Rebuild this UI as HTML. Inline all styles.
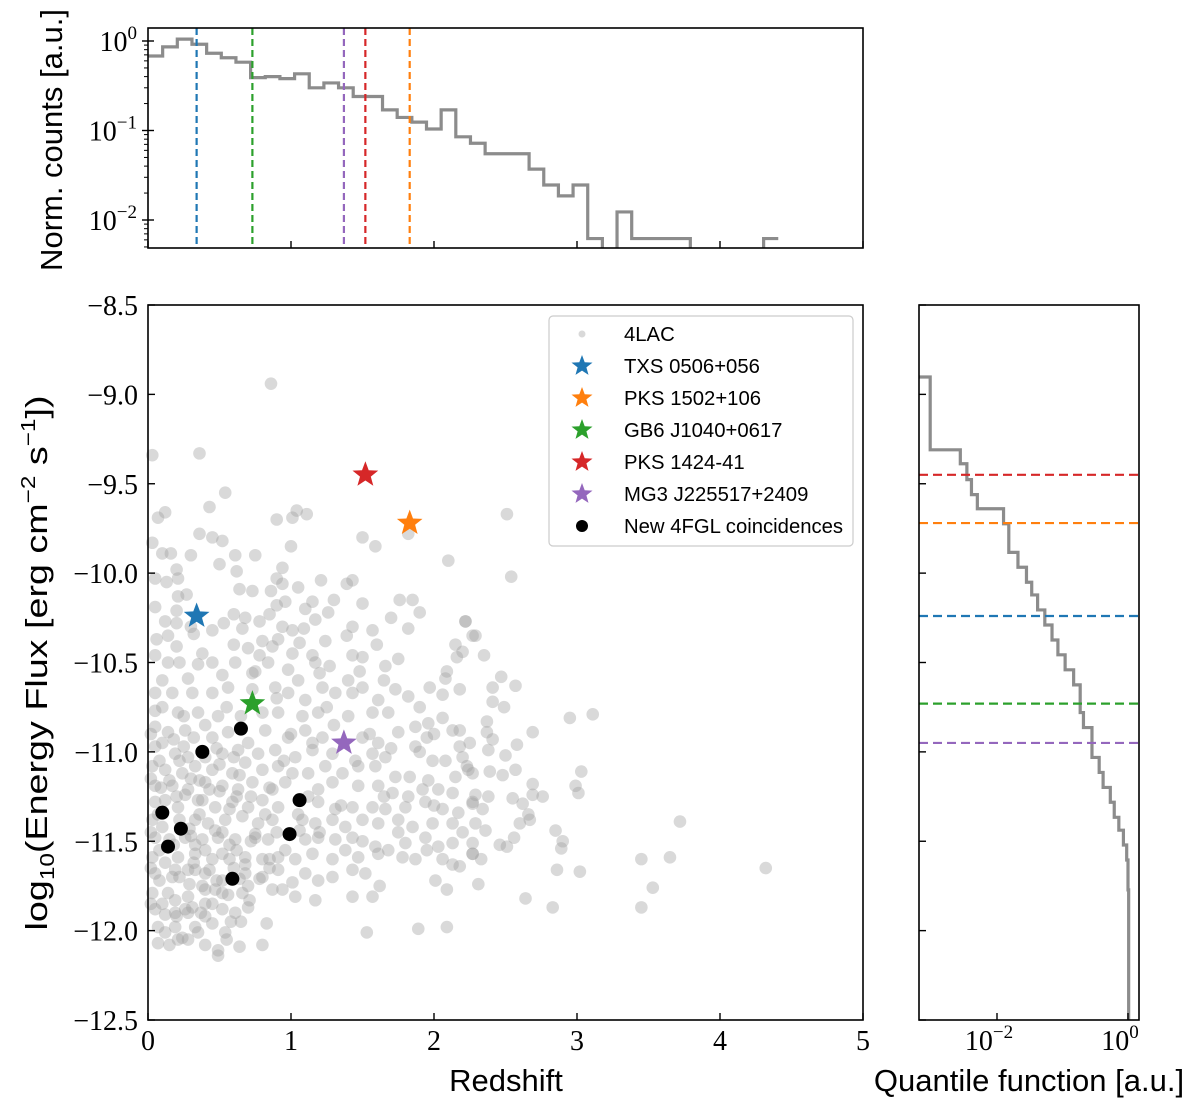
<!DOCTYPE html>
<html><head><meta charset="utf-8"><style>
html,body{margin:0;padding:0;background:#fff;}
svg{display:block;}
.tk{font-family:"Liberation Serif",serif;font-size:28px;fill:#000;}
.lab{font-family:"Liberation Sans",sans-serif;font-size:31px;fill:#000;}
.leg{font-family:"Liberation Sans",sans-serif;font-size:20.3px;fill:#000;}
</style></head><body>
<svg id="fig" width="1200" height="1107" viewBox="0 0 1200 1107" xmlns="http://www.w3.org/2000/svg">
<rect width="1200" height="1107" fill="#fff"/>
<g id="scatterG"></g>
<g id="topG"></g>
<g id="rightG"></g>
<g id="axG"></g>
</svg>
<script>
// ---------- data ----------
const histCounts = [0.68,0.86,1.05,0.92,0.73,0.65,0.58,0.39,0.40,0.38,0.43,0.30,0.34,0.30,0.24,0.24,0.17,0.14,0.124,0.104,0.17,0.085,0.072,0.055,0.055,0.055,0.037,0.0246,0.0186,0.0246,0.0062,0,0.0123,0.0062,0.0062,0.0062,0.0062,0,0,0,0,0,0.0062];
const histBinWidth = 0.1025;
const srcNames = ["TXS 0506+056","PKS 1502+106","GB6 J1040+0617","PKS 1424-41","MG3 J225517+2409"];
const srcZ = [0.34,1.83,0.73,1.52,1.37];
const srcFlux = [-10.24,-9.72,-10.73,-9.45,-10.95];
const srcColors = ["#1f77b4","#ff7f0e","#2ca02c","#d62728","#9467bd"];
const newZ = [0.65,0.38,0.10,0.23,0.14,1.06,0.99,0.59];
const newFlux = [-10.87,-11.00,-11.34,-11.43,-11.53,-11.27,-11.46,-11.71];
const quantEdges = [-8.903,-9.310,-9.388,-9.477,-9.561,-9.640,-9.724,-9.884,-9.967,-10.051,-10.122,-10.206,-10.290,-10.374,-10.457,-10.541,-10.625,-10.780,-10.864,-11.031,-11.115,-11.199,-11.282,-11.366,-11.438,-11.521,-11.605,-11.772,-12.5];
const quantLogQ = [-3.02,-2.56,-2.46,-2.39,-2.30,-1.90,-1.82,-1.68,-1.55,-1.47,-1.38,-1.27,-1.16,-1.07,-0.96,-0.83,-0.73,-0.68,-0.55,-0.44,-0.38,-0.27,-0.21,-0.14,-0.07,-0.02,0.0,0.01];
const xTicks = [0,1,2,3,4,5];
const yTicks = [-8.5,-9.0,-9.5,-10.0,-10.5,-11.0,-11.5,-12.0,-12.5];
const histYTicks = [0,-1,-2];
const pts4lac = [
[.86,-8.94],[.03,-9.34],[.36,-9.33],[.54,-9.55],[.43,-9.63],[.12,-9.66],[.07,-9.69],[.90,-9.70],[1.01,-9.69],[1.04,-9.65],[1.11,-9.67],[.36,-9.78],[.45,-9.80],[.52,-9.82],[.03,-9.83],[.10,-9.89],[.16,-9.89],[.61,-9.90],[1.50,-9.80],[1.59,-9.85],[1.82,-9.78],[2.10,-9.93],[.20,-9.98],[.05,-10.03],[.13,-10.05],[.21,-10.03],[.62,-9.99],[.94,-9.97],[.90,-10.03],[.94,-10.06],[1.21,-10.04],[1.39,-10.06],[1.43,-10.04],[1.05,-10.08],[.64,-10.09],[.73,-10.10],[.86,-10.10],[.27,-10.12],[.21,-10.13],[.05,-10.19],[1.50,-10.17],[1.76,-10.15],[1.85,-10.15],[1.15,-10.16],[.90,-10.18],[.96,-10.16],[1.90,-10.22],[.60,-10.23],[.68,-10.25],[.85,-10.23],[1.26,-10.22],[1.17,-10.26],[.20,-10.21],[.12,-10.27],[.20,-10.28],[.53,-10.28],[.78,-10.27],[1.43,-10.30],[1.82,-10.31],[2.22,-10.27],[.32,-10.34],[.45,-10.32],[.66,-10.31],[.94,-10.30],[1.01,-10.32],[1.09,-10.31],[1.57,-10.32],[.06,-10.37],[.14,-10.35],[.20,-10.41],[.80,-10.38],[.91,-10.37],[1.06,-10.39],[1.24,-10.38],[1.39,-10.35],[2.27,-10.35],[2.15,-10.40],[.38,-10.45],[.70,-10.42],[.87,-10.41],[1.01,-10.45],[1.15,-10.46],[1.43,-10.46],[1.50,-10.47],[.05,-10.46],[.14,-10.50],[.22,-10.50],[.35,-10.51],[.61,-10.50],[.78,-10.46],[.84,-10.50],[1.17,-10.50],[1.27,-10.52],[1.66,-10.52],[1.75,-10.48],[2.16,-10.47],[.28,-10.59],[.52,-10.57],[.73,-10.56],[.98,-10.54],[1.05,-10.60],[1.20,-10.56],[1.48,-10.55],[2.08,-10.59],[2.09,-10.55],
[.05,-10.67],[.17,-10.67],[.31,-10.67],[.45,-10.67],[.56,-10.64],[.73,-10.65],[.89,-10.64],[.98,-10.67],[1.10,-10.71],[1.22,-10.64],[1.31,-10.67],[1.43,-10.67],[1.50,-10.64],[1.61,-10.71],[1.73,-10.65],[1.82,-10.69],[1.97,-10.64],[2.06,-10.68],[2.18,-10.65],[.05,-10.77],[.21,-10.78],[.35,-10.78],[.49,-10.80],[.80,-10.78],[.91,-10.78],[1.08,-10.80],[1.19,-10.78],[1.40,-10.80],[1.57,-10.78],[1.68,-10.78],[1.87,-10.86],[1.96,-10.84],[2.06,-10.81],[2.18,-10.88],[.05,-10.86],[.14,-10.89],[.26,-10.88],[.45,-10.92],[.56,-10.89],[.82,-10.88],[.98,-10.92],[1.10,-10.88],[1.22,-10.92],[1.50,-10.92],[1.61,-10.95],[1.75,-10.89],[1.95,-10.92],[2.13,-10.88],[.05,-10.97],[.19,-11.01],[.28,-11.03],[.52,-11.01],[.63,-10.99],[.77,-11.01],[.89,-10.99],[1.03,-11.03],[1.15,-10.99],[1.29,-11.01],[1.57,-11.01],[1.66,-11.03],[1.87,-10.97],[2.18,-10.97],[2.23,-11.08],[1.99,-11.05],[2.08,-11.05],[.03,-11.08],[.12,-11.10],[.24,-11.12],[.33,-11.08],[.45,-11.10],[.59,-11.12],[.68,-11.06],[.80,-11.10],[.91,-11.08],[1.01,-11.12],[1.12,-11.12],[1.24,-11.08],[1.36,-11.12],[1.47,-11.08],[1.59,-11.08],[1.73,-11.14],[1.83,-11.14],[1.96,-11.16],[2.15,-11.14],[2.27,-11.12],[.05,-11.19],[.17,-11.19],[.28,-11.21],[.40,-11.17],[.52,-11.19],[.63,-11.21],[.73,-11.17],[.87,-11.21],[.96,-11.17],[1.19,-11.21],[1.29,-11.17],[1.47,-11.19],[1.61,-11.19],[1.71,-11.23],[1.82,-11.25],[1.92,-11.21],[2.03,-11.21],[2.13,-11.23],[.05,-11.28],[.21,-11.31],[.35,-11.27],[.47,-11.31],[.59,-11.28],[.70,-11.31],[.80,-11.27],[.91,-11.31],[1.19,-11.28],[1.31,-11.32],[1.43,-11.31],[1.57,-11.31],[1.66,-11.32],[1.80,-11.31],[1.94,-11.28],[2.06,-11.32],[2.17,-11.34],[2.27,-11.28],[.03,-11.38],[.33,-11.38],[.42,-11.40],[.54,-11.38],[.66,-11.36],[.77,-11.40],[.87,-11.38],[1.08,-11.38],[1.17,-11.40],[1.29,-11.38],[1.38,-11.42],[1.50,-11.38],[1.61,-11.40],[1.75,-11.38],[1.85,-11.42],[1.99,-11.40],[2.13,-11.40],[.05,-11.48],[.26,-11.48],[.38,-11.49],[.49,-11.48],[.61,-11.49],[.75,-11.48],[.84,-11.49],[1.10,-11.49],[1.19,-11.48],[1.31,-11.49],[1.43,-11.48],[1.59,-11.53],[1.68,-11.55],[1.80,-11.51],[1.94,-11.48],[2.03,-11.53],[2.13,-11.51],[2.27,-11.57],[.03,-11.59],[.21,-11.59],[.33,-11.57],[.45,-11.60],[.52,-11.57],[.68,-11.59],[.80,-11.60],[.91,-11.59],[1.03,-11.60],[1.15,-11.57],[1.29,-11.60],[1.38,-11.55],[1.47,-11.59],[1.61,-11.57],[1.78,-11.59],[1.87,-11.60],[2.06,-11.60],[2.13,-11.63],[.05,-11.68],[.17,-11.70],[.28,-11.66],[.40,-11.68],[.52,-11.72],[.68,-11.68],[.80,-11.70],[.91,-11.66],[1.01,-11.73],[1.10,-11.68],[1.19,-11.72],[1.29,-11.70],[1.43,-11.66],[1.52,-11.68],[2.01,-11.72],[.03,-11.79],[.14,-11.79],[.28,-11.81],[.40,-11.77],[.52,-11.79],[.66,-11.79],[.87,-11.77],[.94,-11.77],[1.03,-11.81],[1.17,-11.83],[1.43,-11.81],[1.57,-11.81],[1.62,-11.75],[2.09,-11.77],[.05,-11.88],[.19,-11.90],[.31,-11.87],[.40,-11.92],[.52,-11.88],[.61,-11.90],[.70,-11.87],[.83,-11.96],[.07,-11.98],[.19,-11.98],[.33,-11.98],[.45,-11.96],[.54,-12.01],[.12,-12.01],[.24,-12.04],[.35,-12.01],[.07,-12.07],[.21,-12.05],[.49,-12.11],[.64,-12.09],[.80,-12.08],[.49,-12.14],[1.53,-12.01],[1.89,-11.99],[2.09,-11.98],
[.08,-11.05],[.15,-11.16],[.26,-11.24],[.36,-11.35],[.47,-11.44],[.57,-11.52],[.68,-11.63],[.12,-11.27],[.22,-11.38],[.33,-11.52],[.43,-11.66],[.56,-11.80],[.08,-11.55],[.19,-11.66],[.29,-11.74],[.40,-11.85],[.15,-11.49],[.64,-11.71],[.71,-11.83],[.78,-11.71],[.75,-11.46],[.57,-11.32],[.36,-11.16],[.22,-11.05],[.07,-11.35],[.47,-11.77],[.33,-11.66],[.85,-11.60],[.96,-11.55],[1.06,-11.44],[.82,-11.35],[.64,-11.13],[.50,-11.07],[.43,-11.21],[.29,-11.43],[.57,-11.60],[.19,-11.83],[.08,-11.72],[.26,-11.88],[.12,-11.91],
[.02,-10.9],[.1,-10.95],[.18,-10.93],[.25,-10.97],[.32,-10.92],[.4,-11.03],[.48,-10.98],[.6,-11.03],[.7,-10.95],[.02,-11.15],[.09,-11.2],[.2,-11.25],[.3,-11.15],[.38,-11.27],[.5,-11.22],[.62,-11.25],[.72,-11.25],[.85,-11.2],[.02,-11.45],[.1,-11.42],[.18,-11.52],[.3,-11.47],[.4,-11.55],[.52,-11.45],[.62,-11.55],[.72,-11.5],[.9,-11.45],[.02,-11.65],[.12,-11.62],[.22,-11.7],[.32,-11.62],[.38,-11.75],[.48,-11.72],[.6,-11.65],[.7,-11.75],[.85,-11.65],[.02,-11.85],[.1,-11.85],[.2,-11.92],[.28,-11.9],[.37,-11.9],[.45,-11.85],[.58,-11.95],[.65,-11.95],[.15,-12.08],[.28,-12.05],[.4,-12.08],[.55,-12.05],[.1,-10.75],[.25,-10.8],[.4,-10.85],[.55,-10.75],[.65,-10.8],
[1.0,-10.9],[1.15,-10.95],[1.3,-10.85],[1.45,-11.05],[1.55,-10.9],[1.7,-10.98],[1.9,-11.0],[2.0,-10.9],[1.05,-11.35],[1.2,-11.45],[1.35,-11.3],[1.5,-11.5],[1.65,-11.25],[1.75,-11.45],[1.95,-11.55],[2.2,-11.45],[0.95,-11.05],[1.12,-11.25],[1.25,-10.75],[1.4,-10.6],[1.65,-10.6],[1.9,-10.75],[2.0,-11.3],[2.25,-10.95],[1.1,-10.2],[1.3,-10.15],[1.6,-10.4],[1.7,-10.25],[0.5,-9.95],[0.75,-9.9],[1.0,-9.85],[0.3,-9.9],[0.1,-10.6],[0.3,-10.3],[0.45,-10.5],[0.6,-10.4],[0.75,-10.55],[0.9,-10.7],
[2.51,-9.67],[2.54,-10.02],[2.22,-10.27],[2.29,-10.35],[2.20,-10.44],[2.35,-10.46],[2.47,-10.58],[2.41,-10.64],[2.57,-10.63],[2.41,-10.72],[2.49,-10.75],[2.37,-10.83],[2.37,-10.89],[2.41,-10.93],[2.69,-10.89],[2.95,-10.81],[3.11,-10.79],[2.58,-10.96],[2.38,-10.99],[2.50,-11.02],[2.20,-11.03],[2.24,-11.10],[2.39,-11.11],[2.48,-11.13],[2.57,-11.10],[3.03,-11.11],[2.99,-11.19],[3.01,-11.23],[2.69,-11.18],[2.69,-11.24],[2.76,-11.25],[2.29,-11.24],[2.38,-11.25],[2.55,-11.26],[2.62,-11.29],[2.27,-11.29],[2.34,-11.32],[2.66,-11.35],[2.60,-11.40],[2.67,-11.38],[2.29,-11.40],[2.36,-11.44],[2.56,-11.48],[2.85,-11.44],[2.90,-11.50],[2.89,-11.54],[3.72,-11.39],[3.65,-11.59],[3.45,-11.60],[2.46,-11.52],[2.51,-11.53],[2.27,-11.51],[2.27,-11.57],[2.33,-11.60],[2.86,-11.66],[3.02,-11.67],[4.32,-11.65],[2.31,-11.74],[3.53,-11.76],[2.64,-11.82],[2.83,-11.87],[3.45,-11.87],[2.18,-11.64]
];
const redshift4lac = pts4lac.map(p => p[0]);
const flux4lac = pts4lac.map(p => p[1]);

// ---------- scales ----------
const MX0=148, MX1=863, MY0=305, MY1=1020;
const sx = z => MX0 + (z-0)/5*(MX1-MX0);
const sy = f => MY0 + (-8.5-f)/4*(MY1-MY0);
const HY0=28, HY1=248;
const hy = lg => 41 + (0-lg)*89.5;
const RX0=919, RX1=1139;
const rx = lg => 997 + (lg+2)*65.5;
const NS="http://www.w3.org/2000/svg";
function mk(tag, attrs, parent){const e=document.createElementNS(NS,tag);for(const k in attrs)e.setAttribute(k,attrs[k]);parent.appendChild(e);return e;}
const scatterG=document.getElementById('scatterG'), topG=document.getElementById('topG'), rightG=document.getElementById('rightG'), axG=document.getElementById('axG');
function starPts(cx,cy,R){const r=R*0.42;let s=[];for(let i=0;i<10;i++){const a=-Math.PI/2+i*Math.PI/5;const rr=i%2?r:R;s.push((cx+rr*Math.cos(a)).toFixed(1)+','+(cy+rr*Math.sin(a)).toFixed(1));}return s.join(' ');}

// ---------- scatter ----------
for(let i=0;i<redshift4lac.length;i++){
  const c=mk('circle',{cx:sx(redshift4lac[i]),cy:sy(flux4lac[i]),r:6.3,fill:'#a0a0a0','fill-opacity':0.4},scatterG);
  
  
}
for(let i=0;i<newZ.length;i++){
  const c=mk('circle',{cx:sx(newZ[i]),cy:sy(newFlux[i]),r:7,fill:'#000'},scatterG);
  
  
}
for(let i=0;i<srcZ.length;i++){
  const s=mk('polygon',{points:starPts(sx(srcZ[i]),sy(srcFlux[i]),13.5),fill:srcColors[i]},scatterG);
  
  
}

// ---------- top histogram ----------
{
  let d='', started=false;
  for(let i=0;i<histCounts.length;i++){
    const x0=sx(i*histBinWidth), x1=sx((i+1)*histBinWidth);
    const y = histCounts[i]>0 ? Math.min(hy(Math.log10(histCounts[i])),HY1+10) : HY1+10;
    if(!started){d+='M'+x0+','+y;started=true;} else d+='L'+x0+','+y;
    d+='L'+x1+','+y;
  }
  const cp=mk('clipPath',{id:'hclip'},topG); mk('rect',{x:MX0,y:HY0,width:MX1-MX0,height:HY1-HY0},cp);
  const p=mk('path',{d:d,fill:'none',stroke:'#8c8c8c','stroke-width':3.2,'clip-path':'url(#hclip)'},topG);
  
  
  for(let i=0;i<srcZ.length;i++){
    const l=mk('line',{x1:sx(srcZ[i]),x2:sx(srcZ[i]),y1:HY0,y2:HY1,stroke:srcColors[i],'stroke-width':2.2,'stroke-dasharray':'7,4'},topG);
    
    
  }
}

// ---------- right quantile ----------
{
  let d='M'+RX0+','+sy(quantEdges[0]);
  for(let i=0;i<quantLogQ.length;i++){
    const x=rx(quantLogQ[i]);
    d+='L'+x+','+sy(quantEdges[i])+'L'+x+','+sy(quantEdges[i+1]);
  }
  const p=mk('path',{d:d,fill:'none',stroke:'#8c8c8c','stroke-width':3.2},rightG);
  
  
  for(let i=0;i<srcFlux.length;i++){
    const l=mk('line',{x1:RX0,x2:RX1,y1:sy(srcFlux[i]),y2:sy(srcFlux[i]),stroke:srcColors[i],'stroke-width':2.2,'stroke-dasharray':'9,5'},rightG);
    
    
  }
}

// ---------- axes ----------
function frame(x0,y0,x1,y1,name){const r=mk('rect',{x:x0,y:y0,width:x1-x0,height:y1-y0,fill:'none',stroke:'#000','stroke-width':1.6},axG);}
frame(MX0,MY0,MX1,MY1,'main-axes-frame');
frame(MX0,HY0,MX1,HY1,'hist-axes-frame');
frame(RX0,MY0,RX1,MY1,'quantile-axes-frame');
function txt(x,y,s,cls,anchor,name){const t=mk('text',{x:x,y:y,class:cls,'text-anchor':anchor},axG);t.innerHTML=s;return t;}
for(const v of xTicks){
  mk('line',{x1:sx(v),x2:sx(v),y1:MY1,y2:MY1-7,stroke:'#000','stroke-width':1.4},axG);
  mk('line',{x1:sx(v),x2:sx(v),y1:HY1,y2:HY1-7,stroke:'#000','stroke-width':1.4},axG);
  txt(sx(v),1050,String(v),'tk','middle','x-tick-label');
}
for(const v of yTicks){
  mk('line',{x1:MX0,x2:MX0+7,y1:sy(v),y2:sy(v),stroke:'#000','stroke-width':1.4},axG);
  mk('line',{x1:RX0,x2:RX0+7,y1:sy(v),y2:sy(v),stroke:'#000','stroke-width':1.4},axG);
  txt(138,sy(v)+10,'\u2212'+Math.abs(v).toFixed(1),'tk','end','y-tick-label');
}
for(const v of histYTicks){
  mk('line',{x1:MX0-6,x2:MX0+6,y1:hy(v),y2:hy(v),stroke:'#000','stroke-width':1.4},axG);
  for(let k=2;k<10;k++){const y=hy(v-1+Math.log10(k));if(y>HY0&&y<HY1)mk('line',{x1:MX0-4,x2:MX0,y1:y,y2:y,stroke:'#000','stroke-width':1},axG);}
  txt(137,hy(v)+10,'10<tspan dy="-12" font-size="19">'+(v===0?'0':'\u2212'+Math.abs(v))+'</tspan>','tk','end','hist-y-tick-label');
}
for(const v of [-2,0]){
  mk('line',{x1:rx(v),x2:rx(v),y1:MY1,y2:MY1-7,stroke:'#000','stroke-width':1.4},axG);
  txt(rx(v)-8,1050,'10<tspan dy="-12" font-size="19">'+(v===0?'0':'\u22122')+'</tspan>','tk','middle','quantile-tick-label');
}
txt(506,1091,'Redshift','lab','middle','x-axis-title');
txt(1029,1091,'Quantile function [a.u.]','lab','middle','quantile-axis-title');
{const t=txt(0,0,'log<tspan font-size="20" dy="7">10</tspan><tspan dy="-7">(Energy Flux [erg cm</tspan><tspan font-size="20" dy="-12">\u22122</tspan><tspan dy="12"> s</tspan><tspan font-size="20" dy="-12">\u22121</tspan><tspan dy="12">])</tspan>','lab','middle','y-axis-title');t.setAttribute('transform','translate(47,663) rotate(-90)');t.setAttribute('textLength','535');t.setAttribute('lengthAdjust','spacingAndGlyphs');}
{const t=txt(0,0,'Norm.  counts [a.u.]','lab','middle','hist-y-axis-title');t.setAttribute('transform','translate(62,140) rotate(-90)');}

// ---------- legend ----------
{
  const lg=mk('g',{},axG);
  
  
  mk('rect',{x:549,y:316,width:304,height:230,rx:4,fill:'#fff','fill-opacity':0.85,stroke:'#cccccc','stroke-width':1.2},lg);
  const ly=[334,366,398,430,462,494,526];
  mk('circle',{cx:582,cy:ly[0],r:3.5,fill:'#a0a0a0','fill-opacity':0.4},lg);
  const t0=mk('text',{x:624,y:ly[0]+7,class:'leg'},lg);t0.textContent='4LAC';
  
  
  for(let i=0;i<srcNames.length;i++){
    mk('polygon',{points:starPts(582,ly[i+1],11),fill:srcColors[i]},lg);
    const t=mk('text',{x:624,y:ly[i+1]+7,class:'leg'},lg);t.textContent=srcNames[i];
    
    
  }
  mk('circle',{cx:582,cy:ly[6],r:6,fill:'#000'},lg);
  const t6=mk('text',{x:624,y:ly[6]+7,class:'leg'},lg);t6.textContent='New 4FGL coincidences';
  
  
}
</script>
</body></html>
